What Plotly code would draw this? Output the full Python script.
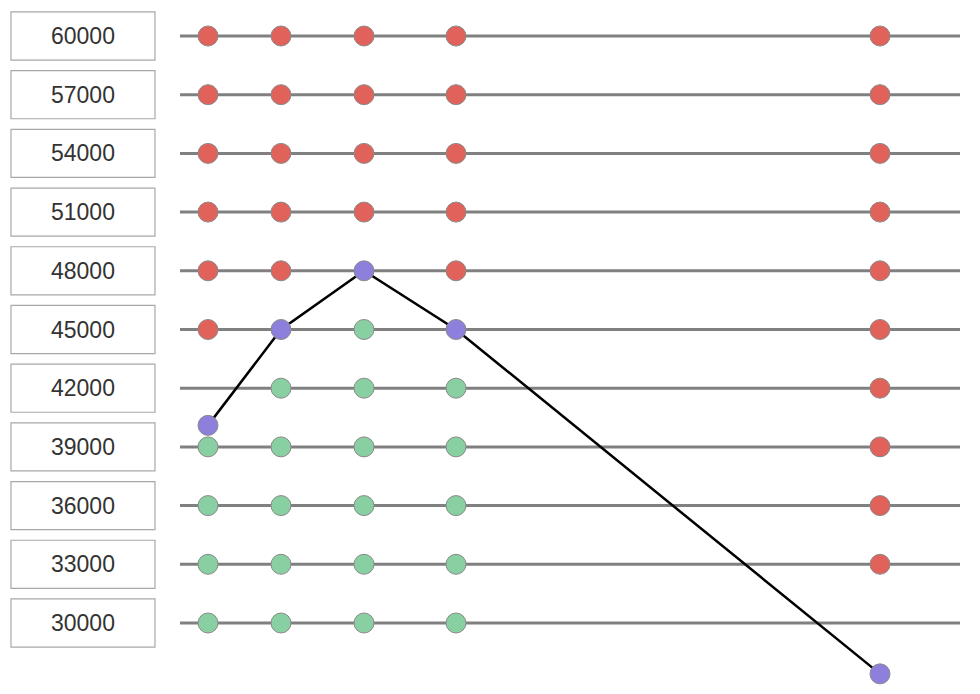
import plotly.graph_objects as go

# Data
levels = [60000, 57000, 54000, 51000, 48000, 45000, 42000, 39000, 36000, 33000, 30000]
level_labels = [str(v) for v in levels]
x_positions = [28, 101, 184, 276, 700]
values = [40100, 45000, 48000, 45000, 27400]
missing = [[42000], [], [], [], [30000]]

RED = "#e0625a"
GREEN = "#88cfa1"
PURPLE = "#8c80dc"
OUTLINE = "#8a8a8a"

fig = go.Figure()

# grid lines
gx, gy = [], []
for lv in levels:
    gx += [0, 780, None]
    gy += [lv, lv, None]
fig.add_trace(go.Scatter(x=gx, y=gy, mode="lines",
                         line=dict(color="#808080", width=3), hoverinfo="skip"))

# level dots
rx, ry, grx, gry = [], [], [], []
for xp, v, miss in zip(x_positions, values, missing):
    for lv in levels:
        if lv == v or lv in miss:
            continue
        if lv > v:
            rx.append(xp); ry.append(lv)
        else:
            grx.append(xp); gry.append(lv)
fig.add_trace(go.Scatter(x=rx, y=ry, mode="markers",
                         marker=dict(size=20, color=RED, line=dict(color=OUTLINE, width=1))))
fig.add_trace(go.Scatter(x=grx, y=gry, mode="markers",
                         marker=dict(size=20, color=GREEN, line=dict(color=OUTLINE, width=1))))

# value path
fig.add_trace(go.Scatter(x=x_positions, y=values, mode="lines+markers",
                         line=dict(color="#000000", width=2.5),
                         marker=dict(size=20, color=PURPLE, line=dict(color=OUTLINE, width=1))))

# label boxes
for lv, lab in zip(levels, level_labels):
    fig.add_shape(type="rect", xref="x", yref="y",
                  x0=-169, x1=-25, y0=lv - 1230, y1=lv + 1230,
                  line=dict(color="#a8a8a8", width=1.2), fillcolor="white", layer="below")
    fig.add_annotation(x=-97, y=lv, xref="x", yref="y", text=lab, showarrow=False,
                       font=dict(family="Liberation Sans, Arial, sans-serif", size=23, color="#333333"))

fig.update_layout(
    width=980, height=694,
    margin=dict(l=0, r=0, t=0, b=0),
    paper_bgcolor="white", plot_bgcolor="white",
    showlegend=False,
    xaxis=dict(range=[-172, 808], visible=False, fixedrange=True),
    yaxis=dict(range=[25962, 61431], visible=False, fixedrange=True),
)

fig.write_html("out.html")
